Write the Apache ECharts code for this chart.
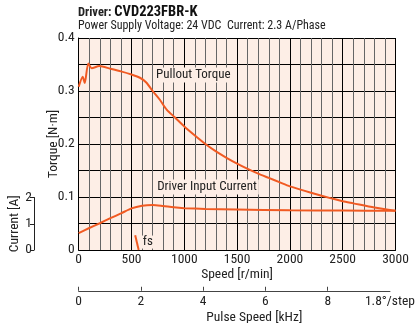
<!DOCTYPE html>
<html><head><meta charset="utf-8">
<script src="https://cdn.jsdelivr.net/npm/echarts@6/dist/echarts.min.js"></script>
<style>html,body{margin:0;padding:0;background:#fff}#c{width:418px;height:323px}</style>
</head><body><div id="c"></div>
<script>
const FONT = "'Liberation Sans Narrow','Arial Narrow','Roboto Condensed',sans-serif";
// Pullout torque [N·m] vs speed [r/min]
const torqueSpeed = [0, 38, 57, 91, 123, 195, 300, 400, 500, 580, 640, 700, 770, 833, 912, 1000, 1100, 1200, 1300, 1400, 1500, 1600, 1700, 1800, 1900, 2000, 2200, 2400, 2500, 2600, 2800, 3000];
const torqueValues = [0.308, 0.327, 0.315, 0.352, 0.343, 0.347, 0.342, 0.337, 0.331, 0.325, 0.316, 0.300, 0.283, 0.265, 0.250, 0.233, 0.216, 0.200, 0.186, 0.174, 0.163, 0.153, 0.144, 0.136, 0.128, 0.120, 0.108, 0.097, 0.092, 0.088, 0.080, 0.074];
// Driver input current [A] vs speed
const currentSpeed = [0, 100, 200, 300, 400, 500, 600, 700, 800, 900, 1000, 1200, 1500, 2000, 2500, 3000];
const currentValues = [0.64, 0.83, 1.01, 1.20, 1.38, 1.57, 1.67, 1.70, 1.66, 1.61, 1.58, 1.55, 1.53, 1.50, 1.49, 1.48];
// fs marker
const fsSpeed = [535, 568];
const fsTorque = [0.028, 0];
// tick labels
const torqueTicks = [0, 0.1, 0.2, 0.3, 0.4];
const speedTicks = [0, 500, 1000, 1500, 2000, 2500, 3000];
const pulseTicks = [0, 2, 4, 6, 8];
const currentTicks = [0, 1, 2];

const ORANGE = '#F15A22';
const txt = {fontFamily: FONT, fontSize: 13.5, color: '#222'};
const lbl = {fontFamily: FONT, fontSize: 13, color: '#222'};
const chart = echarts.init(document.getElementById('c'), null, {renderer: 'canvas'});
chart.setOption({
  animation: false,
  textStyle: {fontFamily: FONT},
  title: [
    {left: 78, top: 5, padding: 0, text: '{a|Driver: }{b|CVD223FBR-K}',
     textStyle: {rich: {a: {fontFamily: FONT, fontSize: 12.5, color: '#222'}, b: {fontFamily: FONT, fontSize: 14.5, fontWeight: 'bold', color: '#111'}}}},
    {left: 78, top: 20, padding: 0, text: 'Power Supply Voltage: 24 VDC  Current: 2.3 A/Phase',
     textStyle: {fontFamily: FONT, fontSize: 12, fontWeight: 'normal', color: '#222'}}
  ],
  grid: [
    {left: 78.7, right: 22.5, top: 38, bottom: 73, show: true, backgroundColor: '#FDEEE6', borderWidth: 0},
    {left: 34, width: 1, top: 197.5, bottom: 73},
    {left: 78.7, right: 22.5, top: 290.5, height: 1}
  ],
  xAxis: [
    {gridIndex: 0, type: 'value', min: 0, max: 3000, interval: 500,
     axisLine: {show: true, lineStyle: {color: '#000', width: 1}}, axisTick: {show: false},
     axisLabel: Object.assign({margin: 3, customValues: speedTicks, formatter: v => String(v)}, txt),
     splitLine: {show: true, lineStyle: {color: '#000', width: 1}},
     minorTick: {show: false, splitNumber: 5},
     minorSplitLine: {show: true, lineStyle: {color: '#666', width: 1}},
     name: 'Speed [r/min]', nameLocation: 'middle', nameGap: 18, nameMoveOverlap: false, nameTextStyle: txt},
    {gridIndex: 1, type: 'value', show: false, min: 0, max: 1},
    {gridIndex: 2, type: 'value', min: 0, max: 10, position: 'bottom',
     axisLine: {show: true, lineStyle: {color: '#444', width: 1}},
     axisTick: {show: true, inside: true, length: 4, customValues: pulseTicks, lineStyle: {color: '#444'}},
     axisLabel: Object.assign({margin: 4, customValues: pulseTicks.concat([10]),
       formatter: v => v === 10 ? '1.8°/step' : String(v)}, txt),
     splitLine: {show: false},
     name: 'Pulse Speed [kHz]', nameLocation: 'middle', nameGap: 20, nameMoveOverlap: false,
     nameTextStyle: Object.assign({padding: [0, 0, 0, 40]}, txt)}
  ],
  yAxis: [
    {gridIndex: 0, type: 'value', min: 0, max: 0.4, interval: 0.1,
     axisLine: {show: true, lineStyle: {color: '#000', width: 1}}, axisTick: {show: false},
     axisLabel: Object.assign({margin: 4, customValues: torqueTicks, formatter: v => String(+v.toFixed(1))}, txt),
     splitLine: {show: true, lineStyle: {color: '#000', width: 1}},
     minorTick: {show: false, splitNumber: 2},
     minorSplitLine: {show: true, lineStyle: {color: '#000', width: 1}},
     name: 'Torque [N·m]', nameLocation: 'middle', nameGap: 18, nameRotate: 90, nameMoveOverlap: false, nameTextStyle: txt},
    {gridIndex: 0, type: 'value', min: 0, max: 8, show: false},
    {gridIndex: 1, type: 'value', min: 0, max: 2, interval: 1, position: 'left',
     axisLine: {show: true, lineStyle: {color: '#222', width: 1}},
     axisTick: {show: true, length: 4, lineStyle: {color: '#222'}},
     axisLabel: Object.assign({margin: 2, customValues: currentTicks}, txt),
     splitLine: {show: false},
     name: 'Current [A]', nameLocation: 'middle', nameGap: 12, nameRotate: 90, nameMoveOverlap: false, nameTextStyle: txt},
    {gridIndex: 2, type: 'value', min: 0, max: 1, show: false}
  ],
  series: [
    {type: 'line', xAxisIndex: 0, yAxisIndex: 0, symbol: 'none', smooth: 0.25,
     lineStyle: {color: ORANGE, width: 2},
     data: torqueSpeed.map((s, i) => [s, torqueValues[i]]),
     markPoint: {symbol: 'circle', symbolSize: 0, silent: true,
       data: [{coord: [1085, 0.330], label: Object.assign({show: true, position: 'inside', formatter: 'Pullout Torque',
         backgroundColor: '#FDEEE6', padding: [1, 2]}, lbl)}]}},
    {type: 'line', xAxisIndex: 0, yAxisIndex: 1, symbol: 'none', smooth: 0.25,
     lineStyle: {color: ORANGE, width: 2},
     data: currentSpeed.map((s, i) => [s, currentValues[i]]),
     markPoint: {symbol: 'circle', symbolSize: 0, silent: true,
       data: [{coord: [1215, 2.38], label: Object.assign({show: true, position: 'inside', formatter: 'Driver Input Current',
         backgroundColor: '#FDEEE6', padding: [1, 2]}, lbl)}]}},
    {type: 'line', xAxisIndex: 0, yAxisIndex: 0, symbol: 'none',
     lineStyle: {color: ORANGE, width: 2},
     data: fsSpeed.map((s, i) => [s, fsTorque[i]]),
     markPoint: {symbol: 'circle', symbolSize: 0, silent: true,
       data: [{coord: [655, 0.015], label: Object.assign({show: true, position: 'inside', formatter: 'fs',
         backgroundColor: '#FDEEE6', padding: [0, 1]}, lbl)}]}}
  ]
});
</script></body></html>
